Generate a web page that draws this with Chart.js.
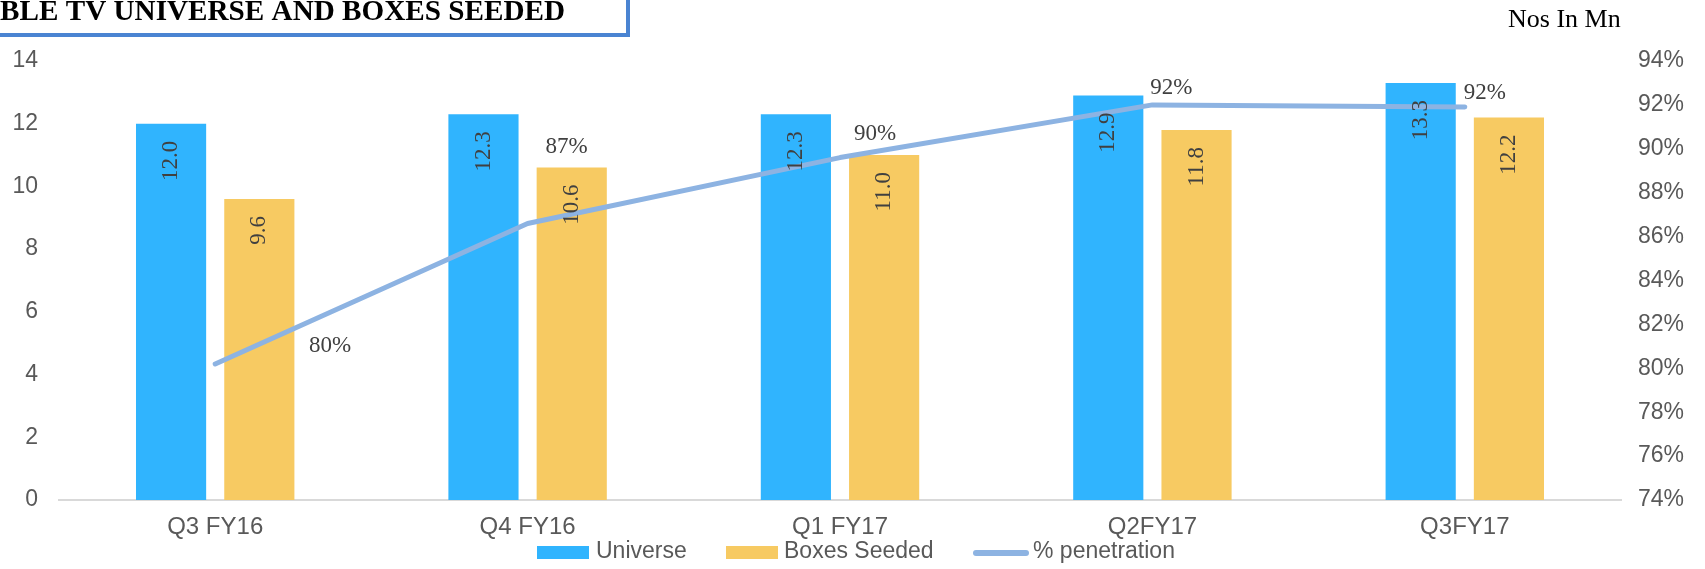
<!DOCTYPE html>
<html>
<head>
<meta charset="utf-8">
<script src="https://cdn.jsdelivr.net/npm/chart.js@4.4.1/dist/chart.umd.min.js"></script>
<style>
  html, body { margin: 0; padding: 0; background: #fff; overflow: hidden; }
  #wrap { position: relative; width: 1705px; height: 569px; }
</style>
</head>
<body>
<div id="wrap"><canvas id="chart" width="1705" height="569"></canvas></div>
<script>
// data
const categories = ["Q3 FY16", "Q4 FY16", "Q1 FY17", "Q2FY17", "Q3FY17"];
const universe = [12.0, 12.3, 12.3, 12.9, 13.3];
const boxesSeeded = [9.6, 10.6, 11.0, 11.8, 12.2];
const penetration = [80.2, 86.6, 89.6, 92.0, 91.9];

// where the % labels sit, relative to each point (px)
const pctLabelOffset = [[115, -18], [39, -76], [35, -24], [19, -17], [20, -14]];

const tickColor = "#595959";
const labelColor = "#404040";
const blue = "#30b4fe";
const yellow = "#f7ca62";
const lineBlue = "#8db3e2";

// extra text + value labels + legend drawn on the canvas
const decorations = {
    id: "decorations",
    afterDatasetsDraw: function (chart) {
        var ctx = chart.ctx;
        ctx.save();
        ctx.fillStyle = labelColor;
        ctx.font = "23px 'Liberation Serif'";

        // bar values, rotated, just under the top of the bar
        [0, 1].forEach(function (di) {
            var meta = chart.getDatasetMeta(di);
            meta.data.forEach(function (bar, i) {
                ctx.save();
                ctx.translate(bar.x, bar.y + 17);
                ctx.rotate(-Math.PI / 2);
                ctx.textAlign = "right";
                ctx.textBaseline = "middle";
                ctx.fillText(chart.data.datasets[di].data[i].toFixed(1), 0, 0);
                ctx.restore();
            });
        });

        // penetration labels
        ctx.textAlign = "center";
        ctx.textBaseline = "middle";
        chart.getDatasetMeta(2).data.forEach(function (pt, i) {
            var off = pctLabelOffset[i];
            ctx.fillText(Math.round(penetration[i]) + "%", pt.x + off[0], pt.y + off[1]);
        });
        ctx.restore();
    },
    afterDraw: function (chart) {
        var ctx = chart.ctx;
        ctx.save();

        // title box (cut off on the left like the slide)
        ctx.strokeStyle = "#4a84d2";
        ctx.lineWidth = 4;
        ctx.strokeRect(-10, -10, 638, 45);
        ctx.fillStyle = "#000";
        ctx.font = "bold 29px 'Liberation Serif'";
        ctx.textAlign = "right";
        ctx.textBaseline = "alphabetic";
        // squeeze so the visible part "BLE ... SEEDED" runs from 0 to 565
        var visible = ctx.measureText("BLE TV UNIVERSE AND BOXES SEEDED").width;
        var sx = 565 / visible;
        ctx.save();
        ctx.scale(sx, 1);
        ctx.fillText("CABLE TV UNIVERSE AND BOXES SEEDED", 565 / sx, 20);
        ctx.restore();

        ctx.font = "26px 'Liberation Serif'";
        ctx.textAlign = "left";
        ctx.fillText("Nos In Mn", 1508, 27);

        // legend
        var y = 552;
        ctx.font = "23px 'Liberation Sans'";
        ctx.textBaseline = "middle";
        ctx.fillStyle = blue;
        ctx.fillRect(537, y - 6, 52, 13);
        ctx.fillStyle = yellow;
        ctx.fillRect(726, y - 6, 52, 13);
        ctx.strokeStyle = lineBlue;
        ctx.lineWidth = 6;
        ctx.lineCap = "round";
        ctx.beginPath();
        ctx.moveTo(976, y + 1);
        ctx.lineTo(1026, y + 1);
        ctx.stroke();
        ctx.fillStyle = tickColor;
        ctx.fillText("Universe", 596, y);
        ctx.fillText("Boxes Seeded", 784, y);
        ctx.fillText("% penetration", 1033, y);
        ctx.restore();
    }
};

var ctx = document.getElementById("chart").getContext("2d");
var myChart = new Chart(ctx, {
    type: "bar",
    data: {
        labels: categories,
        datasets: [
            {
                label: "Universe",
                data: universe,
                backgroundColor: blue,
                yAxisID: "y",
                order: 2,
                barPercentage: 0.795,
                categoryPercentage: 0.565,
            },
            {
                label: "Boxes Seeded",
                data: boxesSeeded,
                backgroundColor: yellow,
                yAxisID: "y",
                order: 2,
                barPercentage: 0.795,
                categoryPercentage: 0.565,
            },
            {
                type: "line",
                label: "% penetration",
                data: penetration,
                borderColor: lineBlue,
                backgroundColor: lineBlue,
                borderWidth: 5,
                borderCapStyle: "round",
                borderJoinStyle: "round",
                pointRadius: 0,
                tension: 0,
                yAxisID: "y1",
                order: 1,
            },
        ],
    },
    options: {
        responsive: false,
        animation: false,
        layout: { padding: { top: 61, left: 0, right: 0, bottom: 0 } },
        plugins: {
            legend: { display: false },
            tooltip: { enabled: false },
        },
        scales: {
            x: {
                grid: { display: false, drawTicks: false },
                border: { display: true, color: "#d9d9d9", width: 2 },
                ticks: {
                    color: tickColor,
                    font: { family: "'Liberation Sans'", size: 24 },
                    padding: 13,
                },
                afterFit: function (scale) { scale.height = 69; },
            },
            y: {
                position: "left",
                min: 0,
                max: 14,
                ticks: {
                    stepSize: 2,
                    color: tickColor,
                    font: { family: "'Liberation Sans'", size: 23 },
                    padding: 21,
                },
                grid: { display: false, drawTicks: false },
                border: { display: false },
                afterFit: function (scale) { scale.width = 59; },
            },
            y1: {
                position: "right",
                min: 74,
                max: 94,
                ticks: {
                    stepSize: 2,
                    color: tickColor,
                    font: { family: "'Liberation Sans'", size: 23 },
                    padding: 17,
                    callback: function (v) { return v + "%"; },
                },
                grid: { display: false, drawTicks: false },
                border: { display: false },
                afterFit: function (scale) { scale.width = 84; },
            },
        },
    },
    plugins: [decorations],
});
</script>
</body>
</html>
